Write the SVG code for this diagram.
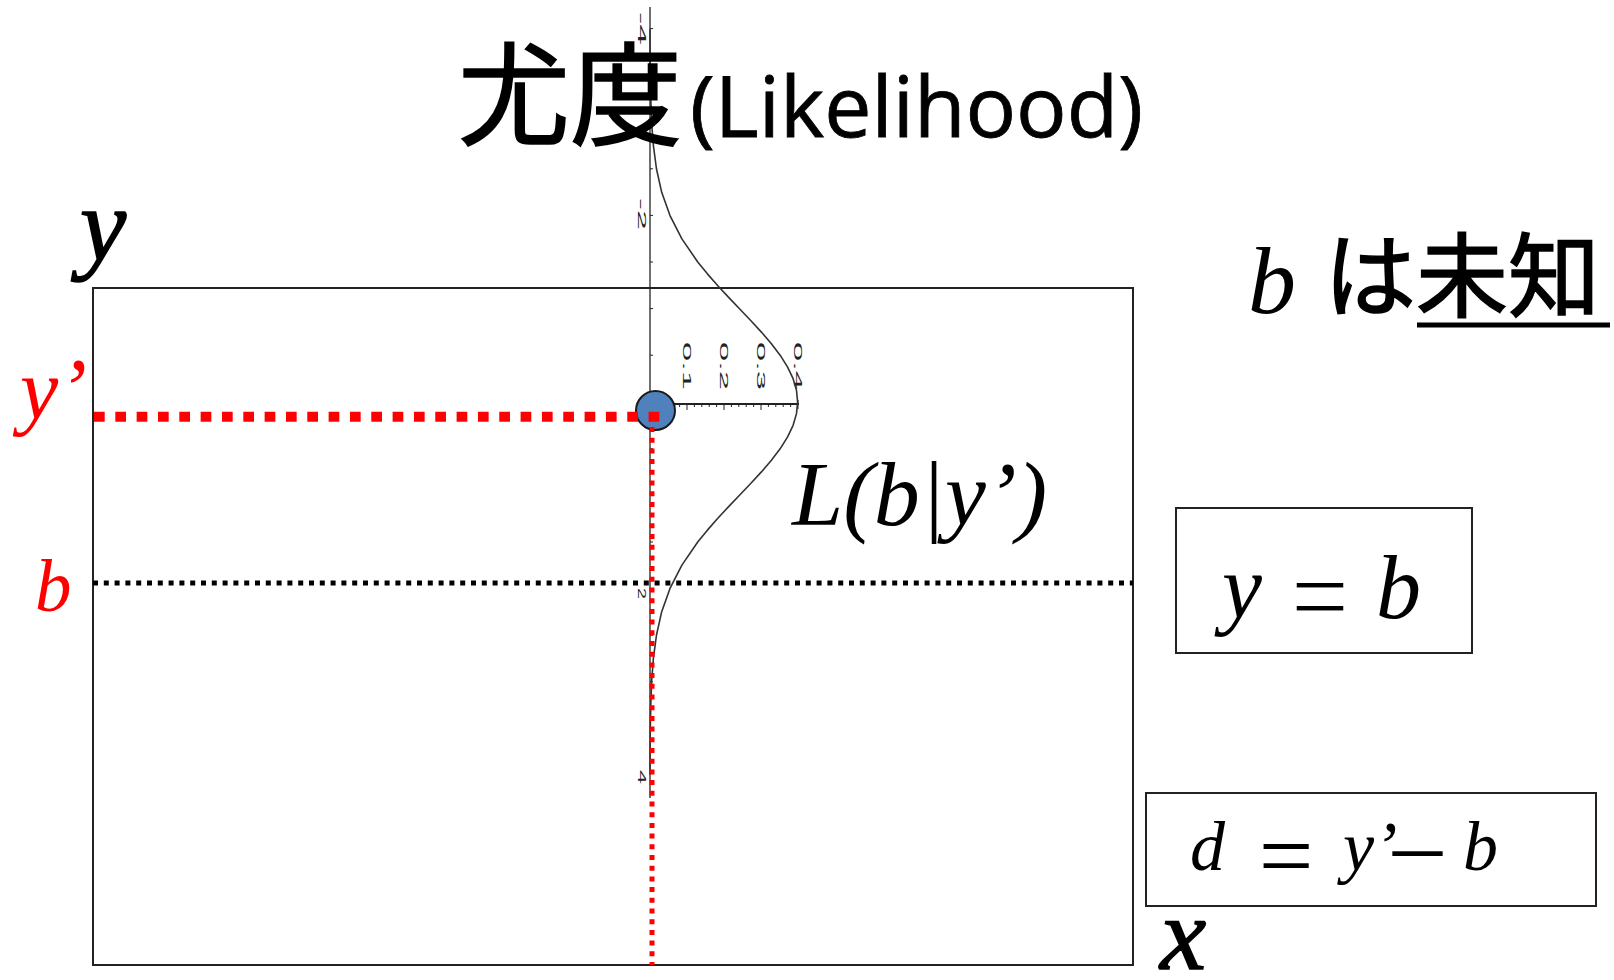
<svg xmlns="http://www.w3.org/2000/svg" width="1614" height="980" viewBox="0 0 1614 980">
<style>
.m{font-family:"Liberation Serif","Times New Roman",serif;font-style:italic;}
.up{font-family:"Liberation Serif","Times New Roman",serif;}
.jp{font-family:"Noto Sans CJK JP",sans-serif;stroke:#000;stroke-width:1.6;}
.tk{font-family:"Liberation Sans",Arial,sans-serif;font-size:10px;fill:#222;}
.box{fill:none;stroke:#222;stroke-width:2;}
</style>
<rect width="1614" height="980" fill="#fff"/>

<g id="frame">
<rect x="93" y="288" width="1040" height="677" class="box"/>
</g>

<g id="plot">
<line x1="650" y1="7" x2="650" y2="798" stroke="#222" stroke-width="1.3"/>
<path d="M650,28.6h3 M650,75.6h3 M650,122.2h3 M650,168.8h3 M650,215.4h3 M650,262h3 M650,308.6h3 M650,355.2h3 M650,448.8h3 M650,495.4h3 M650,542h3 M650,635.2h3 M650,681.8h3 M650,728.4h3" stroke="#222" stroke-width="1"/>
<line x1="650" y1="404" x2="799" y2="404" stroke="#222" stroke-width="2.2"/>
<path d="M657.4,404v3 M664.8,404v3 M672.2,404v3 M679.6,404v3 M687,404v6 M694.4,404v3 M701.8,404v3 M709.2,404v3 M716.6,404v3 M724,404v6 M731.4,404v3 M738.8,404v3 M746.2,404v3 M753.6,404v3 M761,404v6 M768.4,404v3 M775.8,404v3 M783.2,404v3 M790.6,404v3 M798,400v9" stroke="#222" stroke-width="1"/>
<text class="tk" transform="translate(683,342) rotate(90)" textLength="48" lengthAdjust="spacingAndGlyphs">0.1</text>
<text class="tk" transform="translate(720,342) rotate(90)" textLength="48" lengthAdjust="spacingAndGlyphs">0.2</text>
<text class="tk" transform="translate(757,342) rotate(90)" textLength="48" lengthAdjust="spacingAndGlyphs">0.3</text>
<text class="tk" transform="translate(794,342) rotate(90)" textLength="48" lengthAdjust="spacingAndGlyphs">0.4</text>
<text class="tk" transform="translate(638,12) rotate(90)" textLength="33" lengthAdjust="spacingAndGlyphs">-4</text>
<text class="tk" transform="translate(638,198) rotate(90)" textLength="32" lengthAdjust="spacingAndGlyphs">-2</text>
<text class="tk" transform="translate(638,588) rotate(90)" textLength="11" lengthAdjust="spacingAndGlyphs">2</text>
<text class="tk" transform="translate(638,770) rotate(90)" textLength="14" lengthAdjust="spacingAndGlyphs">4</text>
<polyline fill="none" stroke="#333" stroke-width="1.6" stroke-linejoin="round" points="650,29.2 650.1,52.5 650.3,75.8 650.8,99.1 651.6,122.4 653.4,145.7 656.5,169 661.7,192.3 670,215.6 681.9,238.9 697.9,262.2 707.4,273.85 717.6,285.5 728.4,297.15 739.5,308.8 750.7,320.45 761.4,332.1 771.4,343.75 780.3,355.4 787.6,367.05 793.1,378.7 796.5,390.35 797.6,402 796.5,413.65 793.1,425.3 787.6,436.95 780.3,448.6 771.4,460.25 761.4,471.9 750.7,483.55 739.5,495.2 728.4,506.85 717.6,518.5 707.4,530.15 697.9,541.8 681.9,565.1 670,588.4 661.7,611.7 656.5,635 653.4,658.3 651.6,681.6 650.8,704.9 650.3,728.2 650.1,751.5 650,774.8"/>
</g>

<g id="point">
<circle cx="655.5" cy="410.5" r="19.5" fill="#4F81BD" stroke="#1a1a1a" stroke-width="2"/>
</g>

<g id="connectors">
<line x1="93" y1="583" x2="1133" y2="583" stroke="#000" stroke-width="5" stroke-dasharray="5 5.8"/>
<line x1="94" y1="416.7" x2="660" y2="416.7" stroke="#ff0000" stroke-width="10" stroke-dasharray="10.7 10.63"/>
<line x1="652" y1="427" x2="652" y2="965" stroke="#ff0000" stroke-width="5" stroke-dasharray="5 5.7"/>
</g>

<g id="title">
<text y="137"><tspan class="jp" x="458" font-size="112">尤度</tspan><tspan x="690" font-family="'Open Sans',sans-serif" font-size="84" stroke="#000" stroke-width="0.8" textLength="453" lengthAdjust="spacingAndGlyphs">(Likelihood)</tspan></text>
</g>

<g id="axis-labels">
<text class="m" x="80" y="260" font-size="104" stroke="#000" stroke-width="1.5">y</text>
<text class="m" x="1160" y="969" font-size="104" stroke="#000" stroke-width="1.5">x</text>
<text class="m" x="20" y="418" font-size="86" fill="#ff0000">y’</text>
<text class="m" x="35" y="611" font-size="73" fill="#ff0000">b</text>
</g>

<g id="likelihood-label">
<text class="m" x="792" y="525" font-size="92">L(b|y’)</text>
</g>

<g id="unknown">
<text class="m" x="1248" y="313" font-size="96">b</text>
<text class="jp" x="1324" y="310" font-size="92">は未知</text>
<line x1="1417" y1="325" x2="1610" y2="325" stroke="#000" stroke-width="5"/>
</g>

<g id="box-yb">
<rect x="1176" y="508" width="296" height="145" class="box"/>
<text class="m" x="1222" y="618" font-size="90">y</text>
<text transform="translate(1320,633) scale(1,1.45)" text-anchor="middle" font-family="'DejaVu Sans',sans-serif" font-size="80" stroke="#fff" stroke-width="3.5">=</text>
<text class="m" x="1376" y="618" font-size="90">b</text>
</g>

<g id="box-d">
<rect x="1146" y="793" width="450" height="113" class="box"/>
<text class="m" x="1190" y="870" font-size="70">d</text>
<text class="up" x="1286" y="888" text-anchor="middle" font-size="97">=</text>
<text class="m" x="1343" y="870" font-size="70">y’</text>
<text class="up" x="1393" y="876" font-size="98">–</text>
<text class="m" x="1463" y="870" font-size="70">b</text>
</g>
</svg>
